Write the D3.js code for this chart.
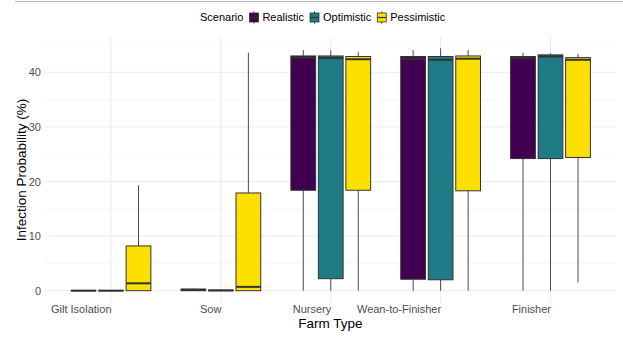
<!DOCTYPE html>
<html>
<head>
<meta charset="utf-8">
<script src="https://cdn.jsdelivr.net/npm/d3@7"></script>
<style>
  body { margin: 0; background: #fff; }
  svg { display: block; font-family: "Liberation Sans", Arial, sans-serif; }
</style>
</head>
<body>
<div id="chart"></div>
<script>
// Box plots of infection probability per farm type, three scenarios.
const farmTypes = ['Gilt Isolation', 'Sow', 'Nursery', 'Wean-to-Finisher', 'Finisher'];
const scenarios = ['Realistic', 'Optimistic', 'Pessimistic'];
const scenarioColors = ['#420050', '#1f7b86', '#fde000'];
const yTicks = [0, 10, 20, 30, 40];

// per scenario, one value per farm type
const lowerWhisker = {
  Realistic:   [0, 0, 0, 0, 0],
  Optimistic:  [0, 0, 0, 0, 0],
  Pessimistic: [0, 0, 0, 0, 1.5],
};
const q1 = {
  Realistic:   [0, 0, 18.4, 2.1, 24.2],
  Optimistic:  [0, 0, 2.2, 2.0, 24.2],
  Pessimistic: [0, 0, 18.4, 18.3, 24.4],
};
const median = {
  Realistic:   [0, 0.15, 42.7, 42.5, 42.6],
  Optimistic:  [0, 0.05, 42.6, 42.3, 42.9],
  Pessimistic: [1.35, 0.7, 42.4, 42.5, 42.3],
};
const q3 = {
  Realistic:   [0.05, 0.3, 43.0, 42.9, 42.9],
  Optimistic:  [0.05, 0.1, 43.0, 42.9, 43.2],
  Pessimistic: [8.2, 17.9, 42.9, 43.0, 42.7],
};
const upperWhisker = {
  Realistic:   [0.05, 0.4, 44.1, 44.1, 43.6],
  Optimistic:  [0.05, 0.1, 44.0, 44.4, 43.5],
  Pessimistic: [19.3, 43.6, 43.7, 44.1, 43.4],
};

const WIDTH = 623, HEIGHT = 354;
const PANEL = { left: 45, right: 616, top: 37.4, bottom: 302.7 };

const svg = d3.select('#chart').append('svg').attr('width', WIDTH).attr('height', HEIGHT);

// thin grey rule along the very top of the image
svg.append('line').attr('x1', 15).attr('x2', WIDTH).attr('y1', 1.5).attr('y2', 1.5)
  .attr('stroke', '#b5b5b5').attr('stroke-width', 1.2);

// x: discrete farm types with ggplot-like 0.6 expansion
const xBand = d3.scalePoint().domain(farmTypes).range([111, 550.5]);
const dodge = d3.scaleBand().domain(scenarios).range([-41.25, 41.25]);
const boxWidth = dodge.bandwidth() * 0.9;

const y = d3.scaleLinear().domain([-2.2, 46.4]).range([PANEL.bottom, PANEL.top]);

// grid
const grid = svg.append('g');
d3.range(5, 50, 10).forEach(v => {
  grid.append('line').attr('x1', PANEL.left).attr('x2', PANEL.right)
    .attr('y1', y(v)).attr('y2', y(v)).attr('stroke', '#f2f2f2').attr('stroke-width', 0.6);
});
yTicks.forEach(v => {
  grid.append('line').attr('x1', PANEL.left).attr('x2', PANEL.right)
    .attr('y1', y(v)).attr('y2', y(v)).attr('stroke', '#ebebeb').attr('stroke-width', 1);
});
farmTypes.forEach(f => {
  grid.append('line').attr('x1', xBand(f)).attr('x2', xBand(f))
    .attr('y1', PANEL.top).attr('y2', PANEL.bottom).attr('stroke', '#ebebeb').attr('stroke-width', 1);
});

// y axis labels
const yAxis = svg.append('g').attr('transform', `translate(${PANEL.left},0)`)
  .call(d3.axisLeft(y).tickValues(yTicks).tickSize(0).tickPadding(4));
yAxis.select('.domain').remove();
yAxis.selectAll('text').attr('font-size', 11).attr('fill', '#4d4d4d')
  .attr('font-family', '"Liberation Sans", Arial, sans-serif');

// x axis labels (right-aligned on the tick, as in the original)
const xAxis = svg.append('g').attr('transform', `translate(0,${PANEL.bottom})`)
  .call(d3.axisBottom(xBand).tickSize(0).tickPadding(3));
xAxis.select('.domain').remove();
xAxis.selectAll('text').attr('font-size', 11).attr('fill', '#4d4d4d')
  .attr('text-anchor', 'end').attr('dy', '0.71em')
  .attr('font-family', '"Liberation Sans", Arial, sans-serif');

// boxes
const boxes = [];
farmTypes.forEach((f, i) => {
  scenarios.forEach((s, j) => {
    boxes.push({
      farm: f, scenario: s, color: scenarioColors[j],
      lo: lowerWhisker[s][i], q1: q1[s][i], med: median[s][i], q3: q3[s][i], hi: upperWhisker[s][i],
    });
  });
});

const boxGroups = svg.append('g').selectAll('g.box').data(boxes).join('g')
  .attr('class', 'box')
  .attr('transform', d => `translate(${xBand(d.farm) + dodge(d.scenario) + dodge.bandwidth() / 2},0)`);

boxGroups.append('line').attr('x1', 0).attr('x2', 0)
  .attr('y1', d => y(d.q3)).attr('y2', d => y(d.hi)).attr('stroke', '#4a4a4a').attr('stroke-width', 1);
boxGroups.append('line').attr('x1', 0).attr('x2', 0)
  .attr('y1', d => y(d.q1)).attr('y2', d => y(d.lo)).attr('stroke', '#4a4a4a').attr('stroke-width', 1);
boxGroups.append('rect')
  .attr('x', -boxWidth / 2).attr('width', boxWidth)
  .attr('y', d => y(d.q3)).attr('height', d => Math.max(0, y(d.q1) - y(d.q3)))
  .attr('fill', d => d.color).attr('stroke', '#333').attr('stroke-width', 1);
boxGroups.append('line')
  .attr('x1', -boxWidth / 2).attr('x2', boxWidth / 2)
  .attr('y1', d => y(d.med)).attr('y2', d => y(d.med))
  .attr('stroke', '#333').attr('stroke-width', 2);

// axis titles
svg.append('text').attr('x', (PANEL.left + PANEL.right) / 2).attr('y', 328)
  .attr('text-anchor', 'middle').attr('font-size', 13.5).attr('fill', '#000')
  .text('Farm Type');
svg.append('text')
  .attr('transform', `translate(26,${(PANEL.top + PANEL.bottom) / 2}) rotate(-90)`)
  .attr('text-anchor', 'middle').attr('font-size', 13.5).attr('fill', '#000')
  .text('Infection Probability (%)');

// legend on top
const legend = svg.append('g').attr('transform', 'translate(0,17.5)');
const legendTitle = legend.append('text').attr('x', 200).attr('dy', '0.35em')
  .attr('font-size', 11).attr('fill', '#000').text('Scenario');
let cursor = 200 + legendTitle.node().getComputedTextLength() + 5;
scenarios.forEach((s, j) => {
  const key = legend.append('g').attr('transform', `translate(${cursor},0)`);
  key.append('line').attr('x1', 5.5).attr('x2', 5.5).attr('y1', -6).attr('y2', 6)
    .attr('stroke', '#333').attr('stroke-width', 1);
  key.append('rect').attr('x', 1).attr('y', -4.5).attr('width', 9).attr('height', 9)
    .attr('fill', scenarioColors[j]).attr('stroke', '#333').attr('stroke-width', 0.8);
  key.append('line').attr('x1', 1).attr('x2', 10).attr('y1', 0).attr('y2', 0)
    .attr('stroke', '#333').attr('stroke-width', 1.2);
  const label = key.append('text').attr('x', 14).attr('dy', '0.35em')
    .attr('font-size', 11).attr('fill', '#000').text(s);
  cursor += 14 + label.node().getComputedTextLength() + 5;
});
</script>
</body>
</html>
